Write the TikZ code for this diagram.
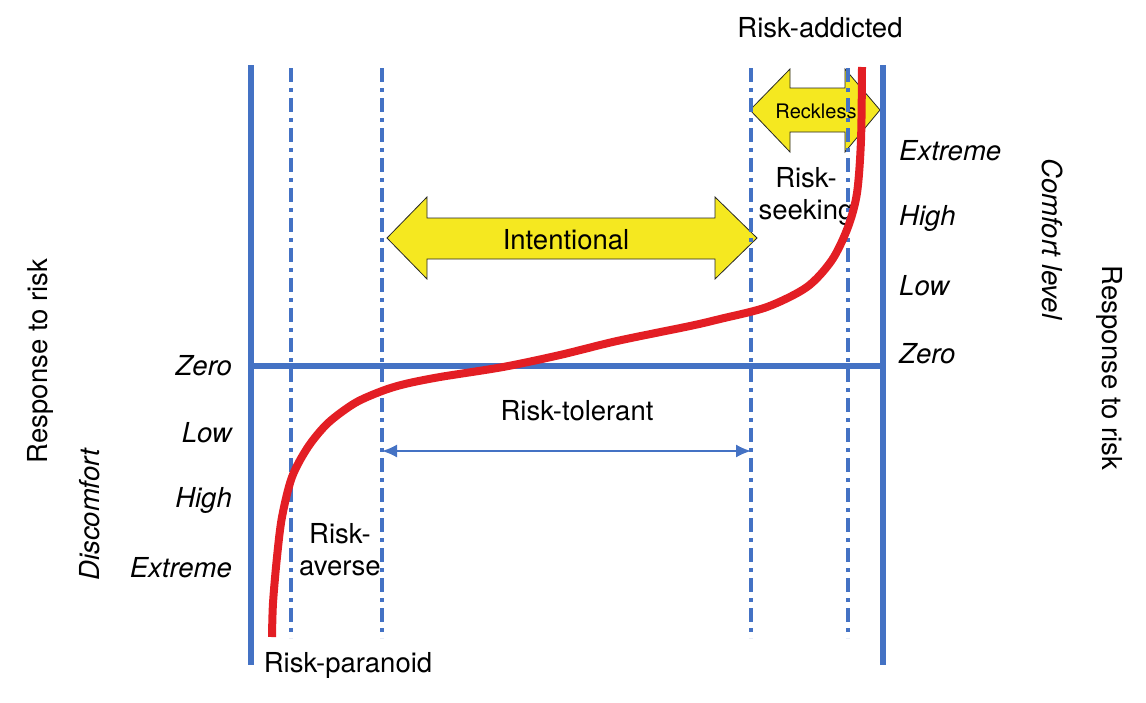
\documentclass[tikz,border=0pt]{standalone}
\usepackage{fontspec}
\setmainfont{TeX Gyre Heros}
\usetikzlibrary{arrows.meta}
\definecolor{axisblue}{RGB}{68,114,196}
\definecolor{curvered}{RGB}{227,30,36}
\definecolor{arrowyellow}{RGB}{245,232,32}
\begin{document}
\begin{tikzpicture}[x=1pt,y=-1pt,
  axisline/.style={line width=6, draw=axisblue},
  guide/.style={line width=4, draw=axisblue, dash pattern=on 14 off 6 on 4 off 6},
  lbl/.style={font=\fontsize{27.5}{32}\selectfont, inner sep=0, align=center},
  ilbl/.style={font=\fontsize{27.5}{32}\selectfont\itshape, inner sep=0},
  bigarrow/.style={draw=black!85, line width=0.8, fill=arrowyellow, line join=miter},
  thinarrow/.style={draw=axisblue, line width=1.8, {Latex[length=15,width=13]}-{Latex[length=15,width=13]}}
]
\useasboundingbox (0,0) rectangle (1146,702);
% coordinates
\coordinate (LT) at (251,65);
\coordinate (LB) at (251,665);
\coordinate (RT) at (883,65);
\coordinate (RB) at (883,665);
\coordinate (HL) at (251,366);
\coordinate (HR) at (883,366);
\coordinate (g1t) at (291,68); \coordinate (g1b) at (291,638);
\coordinate (g2t) at (382,68); \coordinate (g2b) at (382,638);
\coordinate (g3t) at (751,68); \coordinate (g3b) at (751,638);
\coordinate (g4t) at (848,68); \coordinate (g4b) at (848,638);
\coordinate (tolL) at (382,451);
\coordinate (tolR) at (751,451);

% yellow arrows
\draw[bigarrow] (387,238) -- (427,197) -- (427,218) -- (715,218) -- (715,197) -- (757,238)
  -- (715,279) -- (715,259) -- (427,259) -- (427,279) -- cycle;
\node[lbl] (intentional) at (566,240) {Intentional};
\draw[bigarrow] (750,110) -- (790,69) -- (790,88) -- (845,88) -- (845,69) -- (880,110)
  -- (845,152) -- (845,132) -- (790,132) -- (790,152) -- cycle;
\node[font=\fontsize{20}{24}\selectfont, inner sep=0] (reckless) at (816,111) {Reckless};

% texts in the field
\node[lbl] (seeking) at (806,196) {Risk-\\seeking};
\node[lbl] (averse) at (340,550) {Risk-\\averse};
\node[lbl] (tolerant) at (577,411) {Risk-tolerant};
\node[lbl] (addicted) at (820,28) {Risk-addicted};
\node[lbl] (paranoid) at (348,665) {Risk-paranoid};

% guides
\draw[guide] (g1t) -- (g1b);
\draw[guide] (g2t) -- (g2b);
\draw[guide] (g3t) -- (g3b);
\draw[guide] (g4t) -- (g4b);

% tolerant arrow
\draw[thinarrow] (tolL) -- (tolR);

% axes
\draw[axisline] (LT) -- (LB);
\draw[axisline] (RT) -- (RB);
\draw[axisline] (HL) -- (HR);

% red curve
\draw[curvered, line width=8, line cap=butt] plot[smooth, tension=0.5] coordinates {
  (272,637) (273,603) (277,557) (282,517) (292,477) (308,447) (328,423) (355,403)
  (382,391) (405,384) (440,377) (503,367) (560,355) (617,341) (690,326) (720,319)
  (767,307) (807,287) (832,260) (848,227) (857,193) (861,140) (862,67)};

% left scale
\node[ilbl, anchor=east] (lzero) at (232,366) {Zero};
\node[ilbl, anchor=east] (llow) at (232,433) {Low};
\node[ilbl, anchor=east] (lhigh) at (232,500) {High};
\node[ilbl, anchor=east] (lext) at (232,568) {Extreme};
% right scale
\node[ilbl, anchor=west] (rext) at (899,151) {Extreme};
\node[ilbl, anchor=west] (rhigh) at (899,218) {High};
\node[ilbl, anchor=west] (rlow) at (899,286) {Low};
\node[ilbl, anchor=west] (rzero) at (899,354) {Zero};

% axis titles
\node[lbl, rotate=90] (lresp) at (40,361) {Response to risk};
\node[ilbl, rotate=90] (discomfort) at (90,515) {Discomfort};
\node[ilbl, rotate=-90] (comfort) at (1053,239) {Comfort level};
\node[lbl, rotate=-90] (rresp) at (1110,368) {Response to risk};
\end{tikzpicture}
\end{document}
